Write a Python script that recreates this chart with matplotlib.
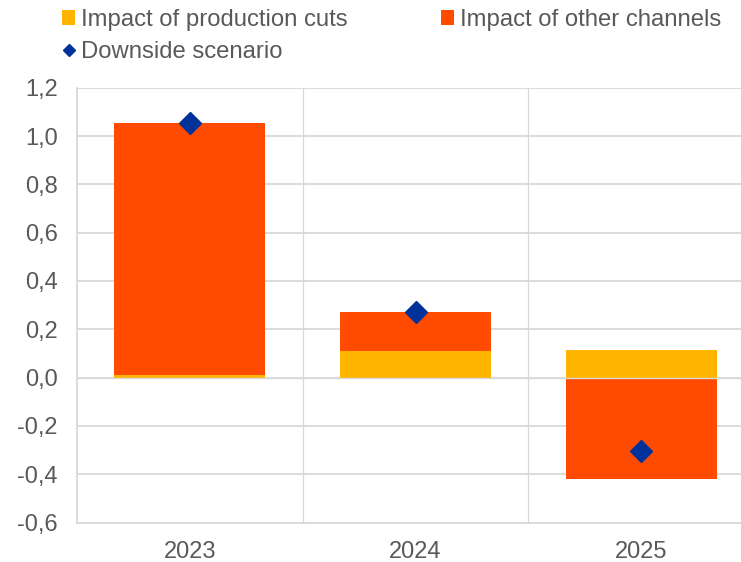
import numpy as np
import matplotlib
matplotlib.use('Agg')
import matplotlib.pyplot as plt
from matplotlib.lines import Line2D
from matplotlib.patches import Patch
from matplotlib.ticker import FuncFormatter, MultipleLocator

years = ['2023', '2024', '2025']
production_cuts = [0.01, 0.11, 0.115]
other_channels = [1.045, 0.161, -0.42]
downside = [1.055, 0.271, -0.303]

YELLOW = '#FFB400'
RED = '#FF4B00'
BLUE = '#003299'
GREY_TXT = '#595959'
GRID = '#D9D9D9'

plt.rcParams['font.family'] = ['Liberation Sans', 'DejaVu Sans']
plt.rcParams['font.size'] = 17

fig = plt.figure(figsize=(7.41, 5.62), dpi=100)
ax = fig.add_axes([77 / 741, 1 - 522.5 / 562, 677 / 741, (522.5 - 87.7) / 562])

x = np.arange(len(years))
width = 0.67

# stack positives on positives, negatives start from zero
prod = np.array(production_cuts)
other = np.array(other_channels)
other_bottom = np.where((other > 0) & (prod > 0), prod, 0.0)
other_bottom = np.where((other < 0) & (prod < 0), prod, other_bottom)

ax.bar(x, prod, width, color=YELLOW, zorder=2)
ax.bar(x, other, width, bottom=other_bottom, color=RED, zorder=2)
ax.axhline(0, color=GRID, lw=1.0, zorder=3)
ax.plot(x, downside, linestyle='none', marker='D', markersize=11.7,
        color=BLUE, zorder=4)

ax.set_xlim(-0.5, len(years) - 0.5)
ax.set_ylim(-0.6, 1.2)
ax.yaxis.set_major_locator(MultipleLocator(0.2))
ax.yaxis.set_major_formatter(FuncFormatter(lambda v, p: f'{v:.1f}'.replace('.', ',').replace('-0,0', '0,0')))
ax.set_xticks(x)
ax.set_xticklabels(years)

ax.grid(axis='y', color=GRID, lw=1.3, zorder=0)
for b in x[:-1] + 0.5:
    ax.axvline(b, color=GRID, lw=0.9, zorder=0)

for side in ['top', 'right']:
    ax.spines[side].set_visible(False)
for side in ['left', 'bottom']:
    ax.spines[side].set_color(GRID)
    ax.spines[side].set_linewidth(1.3)

ax.tick_params(axis='both', length=0, colors=GREY_TXT, labelsize=17)
ax.tick_params(axis='y', pad=14)
ax.tick_params(axis='x', pad=13)

handles = [
    Patch(facecolor=YELLOW, label='Impact of production cuts'),
    Line2D([], [], linestyle='none', marker='D', markersize=6.3, color=BLUE,
           label='Downside scenario'),
    Patch(facecolor=RED, label='Impact of other channels'),
]
leg = fig.legend(handles=handles, ncol=2, loc='upper left',
                 bbox_to_anchor=(62 / 741, 1 - 9 / 562), frameon=False,
                 borderpad=0, borderaxespad=0, handlelength=0.55,
                 handleheight=0.55, handletextpad=0.25, columnspacing=3.9,
                 labelspacing=0.4, fontsize=17.2)
for t in leg.get_texts():
    t.set_color(GREY_TXT)

fig.savefig('out.png', dpi=100)
